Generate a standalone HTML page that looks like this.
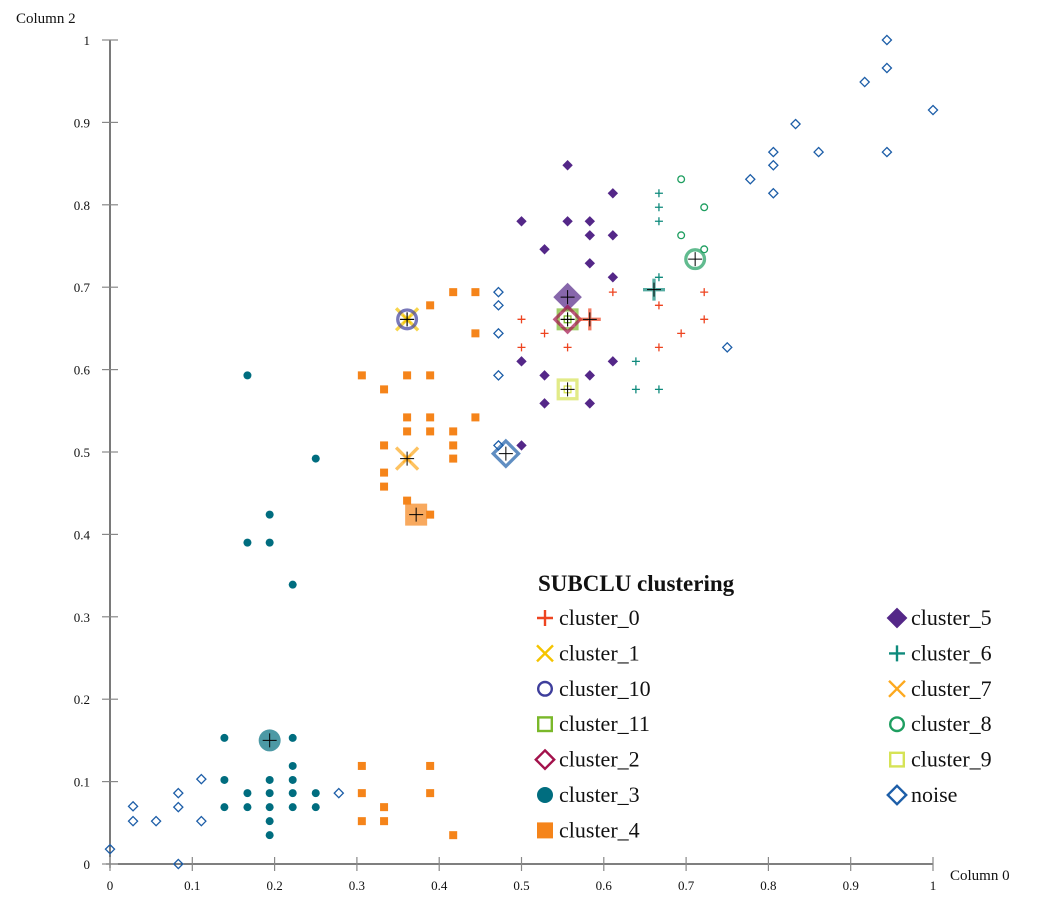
<!DOCTYPE html>
<html><head><meta charset="utf-8"><style>
html,body{margin:0;padding:0;background:#fff;}
svg{display:block;font-family:"Liberation Serif",serif;}
</style></head><body>
<svg id="chart" width="1046" height="905"></svg>
<script>
const categories=["cluster_0","cluster_1","cluster_10","cluster_11","cluster_2","cluster_3","cluster_4","cluster_5","cluster_6","cluster_7","cluster_8","cluster_9","noise"];
const colors={cluster_0:"#ee4420",cluster_1:"#f5c400",cluster_10:"#3e3e9c",cluster_11:"#7ab82a",cluster_2:"#a3124c",cluster_3:"#006d7f",cluster_4:"#f5841a",cluster_5:"#542788",cluster_6:"#0f8a7c",cluster_7:"#fda91f",cluster_8:"#1e9e60",cluster_9:"#d6e356",noise:"#1d5ea8"};
const shapes={cluster_0:"plus",cluster_1:"cross",cluster_10:"ocircle",cluster_11:"osquare",cluster_2:"odiamond",cluster_3:"circle",cluster_4:"square",cluster_5:"diamond",cluster_6:"plus",cluster_7:"cross",cluster_8:"ocircle",cluster_9:"osquare",noise:"odiamond"};
const ticksX=[0,0.1,0.2,0.3,0.4,0.5,0.6,0.7,0.8,0.9,1];
const ticksY=[0,0.1,0.2,0.3,0.4,0.5,0.6,0.7,0.8,0.9,1];
const noiseX=[0,0.028,0.028,0.056,0.083,0.083,0.111,0.111,0.083,0.278,0.472,0.472,0.472,0.472,0.472,0.75,0.778,0.806,0.806,0.806,0.833,0.861,0.917,0.944,0.944,0.944,1.0];
const noiseY=[0.018,0.070,0.052,0.052,0.086,0.069,0.103,0.052,0.0,0.086,0.694,0.678,0.644,0.593,0.508,0.627,0.831,0.864,0.848,0.814,0.898,0.864,0.949,1.0,0.966,0.864,0.915];
const c3X=[0.167,0.25,0.194,0.167,0.194,0.222,0.139,0.222,0.222,0.139,0.194,0.222,0.167,0.194,0.222,0.25,0.139,0.167,0.194,0.222,0.25,0.194,0.194];
const c3Y=[0.593,0.492,0.424,0.39,0.39,0.339,0.153,0.153,0.119,0.102,0.102,0.102,0.086,0.086,0.086,0.086,0.069,0.069,0.069,0.069,0.069,0.052,0.035];
const c4X=[0.306,0.389,0.306,0.389,0.333,0.306,0.333,0.417,0.417,0.444,0.389,0.444,0.306,0.361,0.389,0.333,0.361,0.389,0.444,0.361,0.389,0.417,0.333,0.417,0.417,0.333,0.333,0.361,0.389];
const c4Y=[0.119,0.119,0.086,0.086,0.069,0.052,0.052,0.035,0.694,0.694,0.678,0.644,0.593,0.593,0.593,0.576,0.542,0.542,0.542,0.525,0.525,0.525,0.508,0.508,0.492,0.475,0.458,0.441,0.424];
const c5X=[0.556,0.611,0.5,0.556,0.583,0.583,0.611,0.528,0.583,0.611,0.5,0.611,0.528,0.583,0.528,0.583,0.5];
const c5Y=[0.848,0.814,0.78,0.78,0.78,0.763,0.763,0.746,0.729,0.712,0.61,0.61,0.593,0.593,0.559,0.559,0.508];
const c0X=[0.611,0.722,0.667,0.5,0.722,0.528,0.694,0.5,0.556,0.667];
const c0Y=[0.694,0.694,0.678,0.661,0.661,0.644,0.644,0.627,0.627,0.627];
const c6X=[0.667,0.667,0.667,0.667,0.639,0.639,0.667];
const c6Y=[0.814,0.797,0.78,0.712,0.61,0.576,0.576];
const c8X=[0.694,0.722,0.694,0.722];
const c8Y=[0.831,0.797,0.763,0.746];
const c1X=[0.361],c1Y=[0.661];
const c7X=[0.361],c7Y=[0.492];
const c11X=[0.556],c11Y=[0.661];
const c9X=[0.556],c9Y=[0.576];
const c10X=[],c10Y=[];
const c2X=[],c2Y=[];
const centroidNames=["cluster_3","cluster_4","cluster_1","cluster_10","cluster_7","cluster_5","cluster_11","cluster_2","cluster_0","cluster_9","cluster_6","cluster_8","noise"];
const centroidX=[0.194,0.372,0.361,0.361,0.361,0.556,0.556,0.556,0.583,0.556,0.661,0.711,0.481];
const centroidY=[0.150,0.424,0.661,0.661,0.492,0.688,0.661,0.661,0.661,0.576,0.697,0.734,0.498];

const NS="http://www.w3.org/2000/svg";
const svg=document.getElementById("chart");
const X0=110,X1=933,Y0=864,Y1=40;
function sx(v){return X0+(X1-X0)*v;}
function sy(v){return Y0-(Y0-Y1)*v;}
function mk(tag,attrs,parent){const e=document.createElementNS(NS,tag);for(const k in attrs)e.setAttribute(k,attrs[k]);(parent||svg).appendChild(e);return e;}
function marker(shape,x,y,s,col,parent,op){
  const g=mk("g",{opacity:op||1},parent);
  const sw=Math.max(1.3,s*0.3);
  if(shape==="plus"){mk("path",{d:`M${x-s} ${y}H${x+s}M${x} ${y-s}V${y+s}`,stroke:col,"stroke-width":sw},g);}
  else if(shape==="cross"){mk("path",{d:`M${x-s} ${y-s}L${x+s} ${y+s}M${x-s} ${y+s}L${x+s} ${y-s}`,stroke:col,"stroke-width":sw},g);}
  else if(shape==="circle"){mk("circle",{cx:x,cy:y,r:s,fill:col},g);}
  else if(shape==="ocircle"){mk("circle",{cx:x,cy:y,r:s-sw/2,fill:"none",stroke:col,"stroke-width":sw},g);}
  else if(shape==="square"){mk("rect",{x:x-s,y:y-s,width:2*s,height:2*s,fill:col},g);}
  else if(shape==="osquare"){mk("rect",{x:x-s+sw/2,y:y-s+sw/2,width:2*s-sw,height:2*s-sw,fill:"none",stroke:col,"stroke-width":sw},g);}
  else if(shape==="diamond"){mk("path",{d:`M${x} ${y-s*1.3}L${x+s*1.3} ${y}L${x} ${y+s*1.3}L${x-s*1.3} ${y}Z`,fill:col},g);}
  else if(shape==="odiamond"){const t=s*1.3-sw/2;mk("path",{d:`M${x} ${y-t}L${x+t} ${y}L${x} ${y+t}L${x-t} ${y}Z`,fill:"none",stroke:col,"stroke-width":sw},g);}
  return g;
}
// axes
const ax=mk("g",{});


mk("line",{x1:X0,y1:Y1,x2:X0,y2:Y0+4,stroke:"#333","stroke-width":1.3},ax);
mk("line",{x1:X0-4,y1:Y0,x2:X1,y2:Y0,stroke:"#333","stroke-width":1.3},ax);
ticksX.forEach(t=>{
  mk("line",{x1:sx(t),y1:Y0-7,x2:sx(t),y2:Y0+7,stroke:"#888","stroke-width":1.2},ax);
  const tx=mk("text",{x:sx(t),y:Y0+26,"text-anchor":"middle","font-size":13,fill:"#111"},ax);
  tx.textContent=t;
  
  
});
ticksY.forEach(t=>{
  mk("line",{x1:X0-8,y1:sy(t),x2:X0+8,y2:sy(t),stroke:"#888","stroke-width":1.2},ax);
  const ty=mk("text",{x:X0-20,y:sy(t)+5,"text-anchor":"end","font-size":13,fill:"#111"},ax);
  ty.textContent=t;
  
  
});
const yt=mk("text",{x:16,y:23,"font-size":15,fill:"#111"});
yt.textContent="Column 2";


const xt=mk("text",{x:950,y:880,"font-size":15,fill:"#111"});
xt.textContent="Column 0";



// points
const series=[["noise",noiseX,noiseY],["cluster_3",c3X,c3Y],["cluster_4",c4X,c4Y],["cluster_5",c5X,c5Y],["cluster_0",c0X,c0Y],["cluster_6",c6X,c6Y],["cluster_8",c8X,c8Y],["cluster_1",c1X,c1Y],["cluster_7",c7X,c7Y],["cluster_11",c11X,c11Y],["cluster_9",c9X,c9Y],["cluster_10",c10X,c10Y],["cluster_2",c2X,c2Y]];
series.forEach(([name,xs,ys])=>{
  const g=mk("g",{});
  
  
  xs.forEach((v,i)=>{
    const m=marker(shapes[name],sx(v),sy(ys[i]),4,colors[name],g);
    
    
  });
});
// centroids
centroidNames.forEach((name,i)=>{
  const x=sx(centroidX[i]),y=sy(centroidY[i]);
  const g=mk("g",{});
  
  
  marker(shapes[name],x,y,11,colors[name],g,0.7);
  mk("path",{d:`M${x-7} ${y}H${x+7}M${x} ${y-7}V${y+7}`,stroke:"#000","stroke-width":1},g);
});
// legend
const lg=mk("g",{});


const lt=mk("text",{x:538,y:591,"font-size":23,"font-weight":"bold",fill:"#111"},lg);
lt.textContent="SUBCLU clustering";


categories.forEach((name,i)=>{
  const col=i<7?0:1, row=i<7?i:i-7;
  const mx=col?897:545, y=618+row*35.4;
  const e=mk("g",{},lg);
  
  
  marker(shapes[name],mx,y,8,colors[name],e);
  const t=mk("text",{x:mx+14,y:y+7,"font-size":22,fill:"#111"},e);
  t.textContent=name;
});
</script>
</body></html>
